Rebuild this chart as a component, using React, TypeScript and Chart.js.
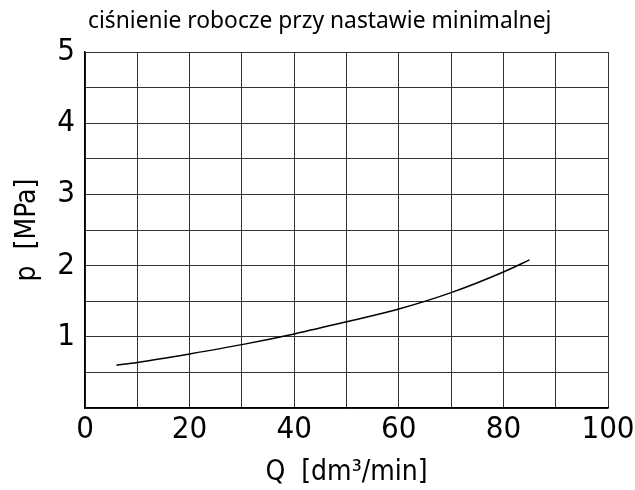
import React, { useEffect, useRef } from "react";
import { Chart, registerables } from "chart.js";

Chart.register(...registerables);

const flowQ = [6, 10, 20, 30, 40, 50, 60, 70, 80, 85];
const pressureP = [0.6, 0.64, 0.76, 0.89, 1.04, 1.21, 1.39, 1.62, 1.91, 2.08];
const yTickLabels = [1, 2, 3, 4, 5];
const xTickLabels = [0, 20, 40, 60, 80, 100];
const titleText = "ciśnienie robocze przy nastawie minimalnej";
const xTitle = "Q  [dm³/min]";
const yTitle = "p  [MPa]";

const FONT = "'Noto Sans', 'Open Sans', sans-serif";
const NARROW = "'Liberation Sans Narrow', 'DejaVu Sans Condensed', 'Noto Sans', sans-serif";

export default function App() {
  const ref = useRef<HTMLCanvasElement | null>(null);
  useEffect(() => {
    document.body.style.margin = "0";
    const titlePlugin = {
      id: "topTitle",
      afterDraw(chart: any) {
        const ctx = chart.ctx;
        ctx.save();
        ctx.font = `22.8px ${FONT}`;
        ctx.fillStyle = "#000";
        ctx.textBaseline = "middle";
        ctx.textAlign = "left";
        ctx.fillText(titleText, chart.chartArea.left + 3, 22);
        ctx.restore();
      },
    };
    const chart = new Chart(ref.current!, {
      type: "line",
      data: {
        datasets: [
          {
            data: flowQ.map((q, i) => ({ x: q, y: pressureP[i] })),
            borderColor: "#000",
            borderWidth: 1.5,
            pointRadius: 0,
            cubicInterpolationMode: "monotone",
            fill: false,
          },
        ],
      },
      options: {
        animation: false,
        responsive: false,
        layout: { padding: { left: 0, top: 52, right: 27, bottom: 0 } },
        plugins: { legend: { display: false }, tooltip: { enabled: false }, title: { display: false } },
        scales: {
          x: {
            type: "linear",
            min: 0,
            max: 100,
            ticks: {
              stepSize: 10,
              autoSkip: false,
              maxRotation: 0,
              padding: 3,
              color: "#000",
              font: { family: NARROW, size: 31 },
              callback: (v: any) => (xTickLabels.includes(Number(v)) ? String(v) : ""),
            },
            grid: { color: "#333", lineWidth: 1, drawTicks: false },
            border: { color: "#000", width: 1.5 },
            title: {
              display: true,
              text: xTitle,
              color: "#000",
              font: { family: NARROW, size: 28 },
              padding: { top: 9, bottom: 0 },
            },
            afterFit: (s: any) => {
              s.height = 82;
              s.paddingLeft = 0;
              s.paddingRight = 0;
            },
          },
          y: {
            type: "linear",
            min: 0,
            max: 5,
            ticks: {
              stepSize: 0.5,
              autoSkip: false,
              padding: 10,
              color: "#000",
              font: { family: NARROW, size: 31 },
              callback: (v: any) => (yTickLabels.includes(Number(v)) ? String(v) : ""),
            },
            grid: { color: "#333", lineWidth: 1, drawTicks: false },
            border: { color: "#000", width: 1.5 },
            title: {
              display: true,
              text: yTitle,
              color: "#000",
              font: { family: NARROW, size: 28 },
              padding: { top: 11, bottom: 0 },
            },
            afterFit: (s: any) => {
              s.width = 85;
              s.paddingTop = 0;
              s.paddingBottom = 0;
            },
          },
        },
      },
      plugins: [titlePlugin],
    } as any);
    return () => chart.destroy();
  }, []);
  return (
    <div style={{ width: 635, height: 490, background: "#fff" }}>
      <canvas ref={ref} width={635} height={490} />
    </div>
  );
}
